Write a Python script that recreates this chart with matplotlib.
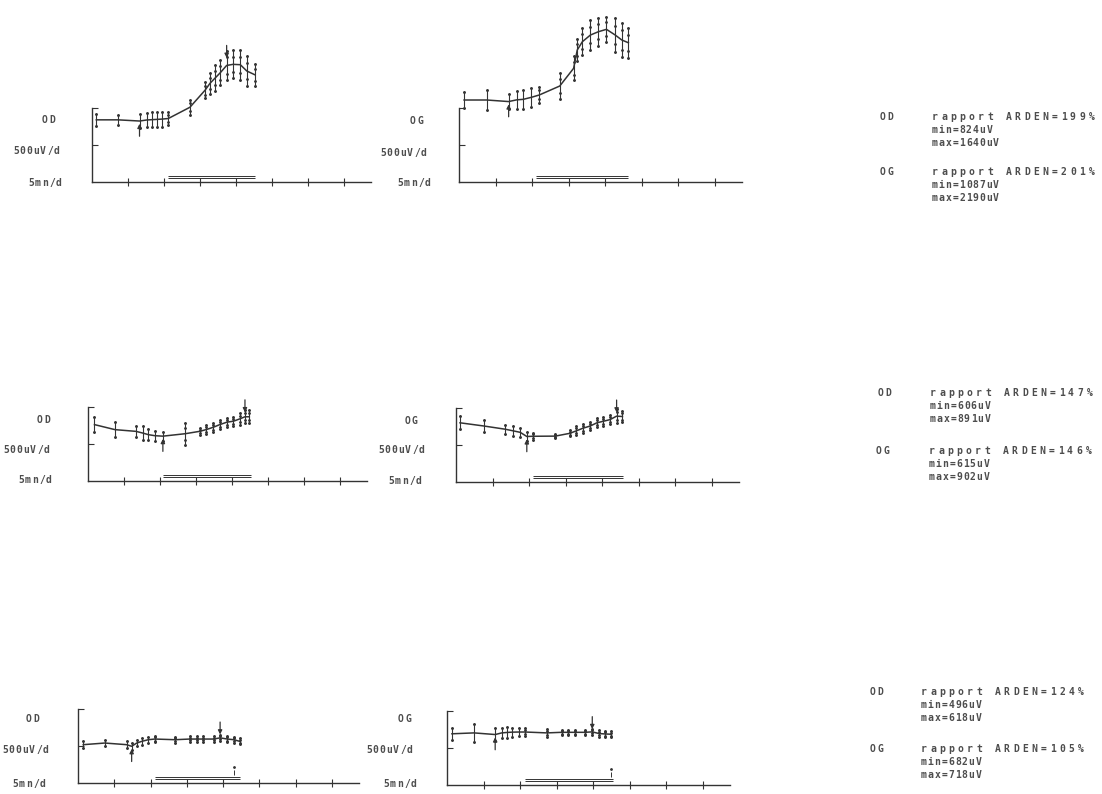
import matplotlib
matplotlib.use('Agg')
import numpy as np
import matplotlib.pyplot as plt

# EOG test, 3 sessions, right eye (OD) and left eye (OG)
# time in minutes, mean amplitude in uV, half spread of the measures in uV
od1_t = [0.6, 3.6, 6.6, 7.6, 8.3, 9.0, 9.7, 10.6, 13.6, 15.7, 16.4, 17.1, 17.8, 18.7, 19.6, 20.6, 21.5, 22.6]
od1_v = [840, 840, 824, 838, 842, 846, 850, 858, 1010, 1240, 1335, 1405, 1475, 1575, 1590, 1585, 1500, 1450]
od1_s = [80, 70, 100, 90, 100, 100, 100, 90, 100, 110, 140, 170, 170, 200, 190, 200, 200, 150]

og1_t = [0.7, 3.8, 6.8, 7.9, 8.8, 9.9, 11.0, 13.8, 15.7, 16.2, 16.9, 18.0, 19.1, 20.2, 21.4, 22.3, 23.2]
og1_v = [1108, 1108, 1087, 1110, 1117, 1144, 1176, 1297, 1536, 1784, 1896, 1986, 2031, 2063, 1986, 1919, 1882]
og1_s = [110, 130, 100, 120, 130, 130, 110, 170, 160, 150, 180, 200, 190, 170, 225, 235, 200]

od2_t = [0.9, 3.75, 6.65, 7.6, 8.4, 9.3, 10.4, 13.5, 15.5, 16.4, 17.4, 18.3, 19.3, 20.2, 21.1, 21.8, 22.4]
od2_v = [762, 694, 671, 648, 626, 612, 606, 639, 671, 694, 726, 762, 795, 808, 840, 868, 868]
od2_s = [100, 100, 70, 100, 70, 70, 60, 150, 45, 60, 60, 60, 60, 60, 80, 90, 90]

og2_t = [0.55, 3.8, 6.7, 7.8, 8.8, 9.7, 10.6, 13.6, 15.6, 16.5, 17.4, 18.4, 19.3, 20.2, 21.1, 22.0, 22.8]
og2_v = [800, 757, 714, 692, 671, 615, 618, 620, 658, 692, 727, 757, 800, 821, 843, 890, 885]
og2_s = [90, 80, 60, 70, 60, 60, 50, 30, 40, 60, 60, 60, 60, 60, 60, 90, 80]

od3_t = [0.73, 3.7, 6.7, 7.4, 8.1, 8.8, 9.7, 10.6, 13.4, 15.4, 16.4, 17.3, 18.7, 19.6, 20.6, 21.5, 22.3]
od3_v = [518, 540, 518, 496, 540, 563, 585, 594, 585, 594, 594, 594, 594, 610, 594, 585, 563]
od3_s = [45, 45, 50, 45, 45, 45, 40, 40, 40, 35, 35, 35, 35, 40, 40, 40, 40]

og3_t = [0.68, 3.7, 6.6, 7.5, 8.2, 8.9, 9.8, 10.7, 13.7, 15.7, 16.6, 17.5, 18.9, 19.9, 20.8, 21.6, 22.5]
og3_v = [692, 704, 682, 704, 710, 714, 716, 716, 704, 712, 712, 712, 712, 718, 696, 690, 686]
og3_s = [80, 120, 90, 70, 70, 60, 60, 50, 55, 35, 35, 35, 35, 40, 45, 45, 40]

# min / max of each test and the time where it was found
eyes = ['OD', 'OG', 'OD', 'OG', 'OD', 'OG']
arden = [199, 201, 147, 146, 124, 105]
v_min = [824, 1087, 606, 615, 496, 682]
v_max = [1640, 2190, 891, 902, 618, 718]
t_min = [6.6, 6.8, 10.4, 9.7, 7.4, 6.6]
t_max = [18.7, 20.2, 21.8, 22.0, 19.6, 19.9]
light_on = [10.6, 10.6, 10.4, 10.5, 10.6, 10.7]
light_off = [22.6, 23.2, 22.6, 22.9, 22.3, 22.7]
end_mark = [None, None, None, None, 21.5, 22.5]

series = [(od1_t, od1_v, od1_s), (og1_t, og1_v, og1_s),
          (od2_t, od2_v, od2_s), (og2_t, og2_v, og2_s),
          (od3_t, od3_v, od3_s), (og3_t, og3_v, og3_s)]

W, H = 1102, 794
ink = '#333333'
txt = '#4d4d4d'
ppu = 37 / 500.0     # pixels per uV
tmax = 38.7

# panel corner (pixels) and pixels per minute
corners = [(92, 182, 7.2), (459, 182, 7.3),
           (88, 481, 7.2), (456, 482, 7.3),
           (78, 783, 7.25), (447, 785, 7.3)]

fig = plt.figure(figsize=(W / 100, H / 100), dpi=100)
fig.patch.set_facecolor('white')


def spaced(x, y, s, pitch, size=7):
    # dot matrix printer look: one char at a time
    for i, ch in enumerate(s):
        fig.text((x + i * pitch) / W, 1 - y / H, ch, ha='left', va='center',
                 fontsize=size, family='DejaVu Sans Mono', weight='bold', color=txt)


box_h = 150
for k, (t, v, s) in enumerate(series):
    x0, y0, ppm = corners[k]
    ax = fig.add_axes([x0 / W, 1 - y0 / H, tmax * ppm / W, box_h / H])
    ax.patch.set_alpha(0)
    ax.set_xlim(0, tmax)
    ax.set_ylim(0, box_h / ppu)
    t = np.array(t)
    v = np.array(v)
    s = np.array(s)

    ax.plot(t, v, color=ink, lw=1.1, clip_on=False)
    ax.vlines(t, v - s, v + s, color=ink, lw=0.8, clip_on=False)
    ax.plot(t, v + s, '.', color=ink, ms=2.2, clip_on=False)
    ax.plot(t, v - s, '.', color=ink, ms=2.2, clip_on=False)
    lit = t > 10.5
    ax.plot(t[lit], v[lit] + s[lit] * 0.55, '.', color=ink, ms=2, clip_on=False)
    ax.plot(t[lit], v[lit] - s[lit] * 0.55, '.', color=ink, ms=2, clip_on=False)

    # arrows on min and max
    arr = 18 / ppu
    ax.annotate('', xy=(t_min[k], v_min[k]), xytext=(t_min[k], v_min[k] - arr),
                arrowprops=dict(arrowstyle='-|>', color=ink, lw=0.9, mutation_scale=6))
    ax.annotate('', xy=(t_max[k], v_max[k]), xytext=(t_max[k], v_max[k] + arr),
                arrowprops=dict(arrowstyle='-|>', color=ink, lw=0.9, mutation_scale=6))

    # light phase
    ax.hlines([4 / ppu, 6.5 / ppu], light_on[k], light_off[k], color=ink, lw=0.7)
    if end_mark[k] is not None:
        ax.vlines(end_mark[k], 8 / ppu, 13 / ppu, color=ink, lw=0.7)
        ax.plot([end_mark[k]], [16 / ppu], '.', color=ink, ms=2)

    for side in ['top', 'right']:
        ax.spines[side].set_visible(False)
    ax.spines['left'].set_bounds(0, 1000)
    for side in ['left', 'bottom']:
        ax.spines[side].set_color(ink)
        ax.spines[side].set_linewidth(1.0)
    ax.set_xticks(range(5, 40, 5))
    ax.set_yticks([500, 1000])
    ax.tick_params(axis='x', direction='inout', length=6, width=0.8, color=ink,
                   labelbottom=False)
    ax.tick_params(axis='y', direction='in', length=4, width=0.8, color=ink,
                   labelleft=False)

# labels at the left of each panel: (eye x, eye y), (scale x, y), (time x, y)
left_labels = [((42, 120), (13, 151), (28, 183)),
               ((410, 121), (380, 153), (397, 183)),
               ((37, 420), (3, 450), (18, 480)),
               ((405, 421), (378, 450), (388, 481)),
               ((26, 719), (2, 750), (12, 784)),
               ((398, 719), (366, 750), (383, 784))]
for k, (e, sc, tm) in enumerate(left_labels):
    spaced(e[0], e[1], eyes[k], 7)
    spaced(sc[0], sc[1], '500uV/d', 6.8)
    spaced(tm[0], tm[1], '5mn/d', 7)

# summary blocks on the right
blocks = [(880, 932, 117), (880, 932, 172),
          (878, 930, 393), (876, 929, 451),
          (870, 921, 692), (870, 921, 749)]
for k, (xe, xt, y) in enumerate(blocks):
    spaced(xe, y, eyes[k], 7)
    spaced(xt, y, 'rapport ARDEN=%d%%' % arden[k], 9.2)
    spaced(xt, y + 13, 'min=%duV' % v_min[k], 6.8)
    spaced(xt, y + 26, 'max=%duV' % v_max[k], 6.8)

plt.savefig('out.png', dpi=100, facecolor='white')
